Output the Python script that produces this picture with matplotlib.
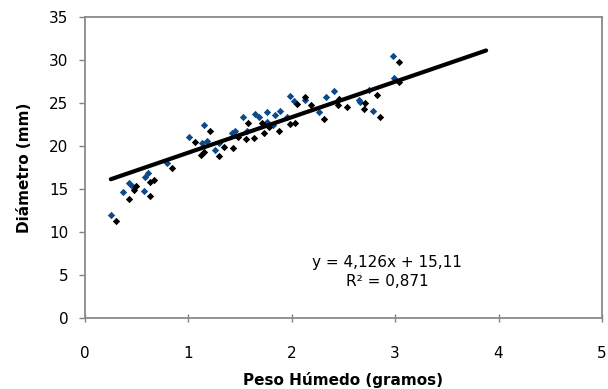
import matplotlib
matplotlib.use("Agg")
import matplotlib.pyplot as plt

# Wet weight (g) vs diameter (mm), two sample groups
blue_x = [0.25, 0.37, 0.43, 0.45, 0.57, 0.58, 0.61, 0.79, 1.01, 1.13, 1.15, 1.18,
          1.26, 1.30, 1.42, 1.45, 1.53, 1.57, 1.64, 1.68, 1.76, 1.76, 1.82, 1.84,
          1.89, 1.95, 1.98, 2.02, 2.13, 2.26, 2.33, 2.41, 2.65, 2.66, 2.75, 2.79,
          2.98, 2.99]
blue_y = [12.0, 14.6, 15.7, 15.3, 14.8, 16.4, 16.9, 18.0, 21.0, 20.4, 22.4, 20.6,
          19.5, 20.3, 21.5, 21.8, 23.4, 21.8, 23.7, 23.4, 24.0, 22.8, 22.4, 23.6,
          24.1, 23.4, 25.8, 25.3, 25.4, 24.0, 25.7, 26.4, 25.4, 25.1, 26.5, 24.1,
          30.5, 27.9]

black_x = [0.30, 0.43, 0.47, 0.49, 0.63, 0.63, 0.67, 0.84, 1.06, 1.12, 1.15, 1.21,
           1.30, 1.34, 1.43, 1.48, 1.56, 1.58, 1.63, 1.71, 1.73, 1.78, 1.88, 1.98,
           2.03, 2.05, 2.13, 2.19, 2.31, 2.46, 2.45, 2.53, 2.71, 2.70, 2.82, 2.85,
           3.04, 3.04]
black_y = [11.3, 13.9, 14.9, 15.3, 14.2, 15.8, 16.1, 17.5, 20.5, 19.0, 19.3, 21.7,
           18.8, 19.9, 19.8, 21.0, 20.8, 22.7, 20.9, 22.7, 21.5, 22.2, 21.8, 22.6,
           22.7, 24.9, 25.7, 24.8, 23.1, 25.5, 24.8, 24.5, 25.0, 24.3, 25.9, 23.4,
           29.8, 27.4]

# Linear trend: y = slope * x + intercept
slope = 4.126
intercept = 15.11
r2 = 0.871
trend_x = [0.25, 3.88]

x_ticks = [0, 1, 2, 3, 4, 5]
y_ticks = [0, 5, 10, 15, 20, 25, 30, 35]

fig = plt.figure(figsize=(6.08, 3.89), dpi=100)
ax = fig.add_axes([0.1398, 0.1825, 0.8502, 0.7735])

ax.scatter(blue_x, blue_y, marker="D", s=14, color="#0d4a8a", linewidths=0, zorder=3)
ax.scatter(black_x, black_y, marker="D", s=14, color="black", linewidths=0, zorder=3)
ax.plot(trend_x, [slope * v + intercept for v in trend_x], color="black", lw=3,
        solid_capstyle="round", zorder=4)

ax.set_xlim(0, 5)
ax.set_ylim(0, 35)
ax.set_xticks(x_ticks)
ax.set_yticks(y_ticks)
ax.tick_params(axis="both", labelsize=11, length=4, width=1, color="#808080")
ax.tick_params(axis="x", pad=17, direction="inout", length=6)
ax.tick_params(axis="y", pad=8)
for s in ax.spines.values():
    s.set_color("#8a8a8a")
    s.set_linewidth(1.3)

ax.set_xlabel("Peso Húmedo (gramos)", fontsize=11, fontweight="bold", labelpad=8)
ax.set_ylabel("Diámetro (mm)", fontsize=11, fontweight="bold", labelpad=12)

eq = f"y = {slope:.3f}x + {intercept:.2f}".replace(".", ",")
r2_txt = f"R² = {r2:.3f}".replace(".", ",")
ax.text(2.92, 6.5, eq, ha="center", va="center", fontsize=11)
ax.text(2.92, 4.2, r2_txt, ha="center", va="center", fontsize=11)

fig.savefig("out.png", dpi=100)
